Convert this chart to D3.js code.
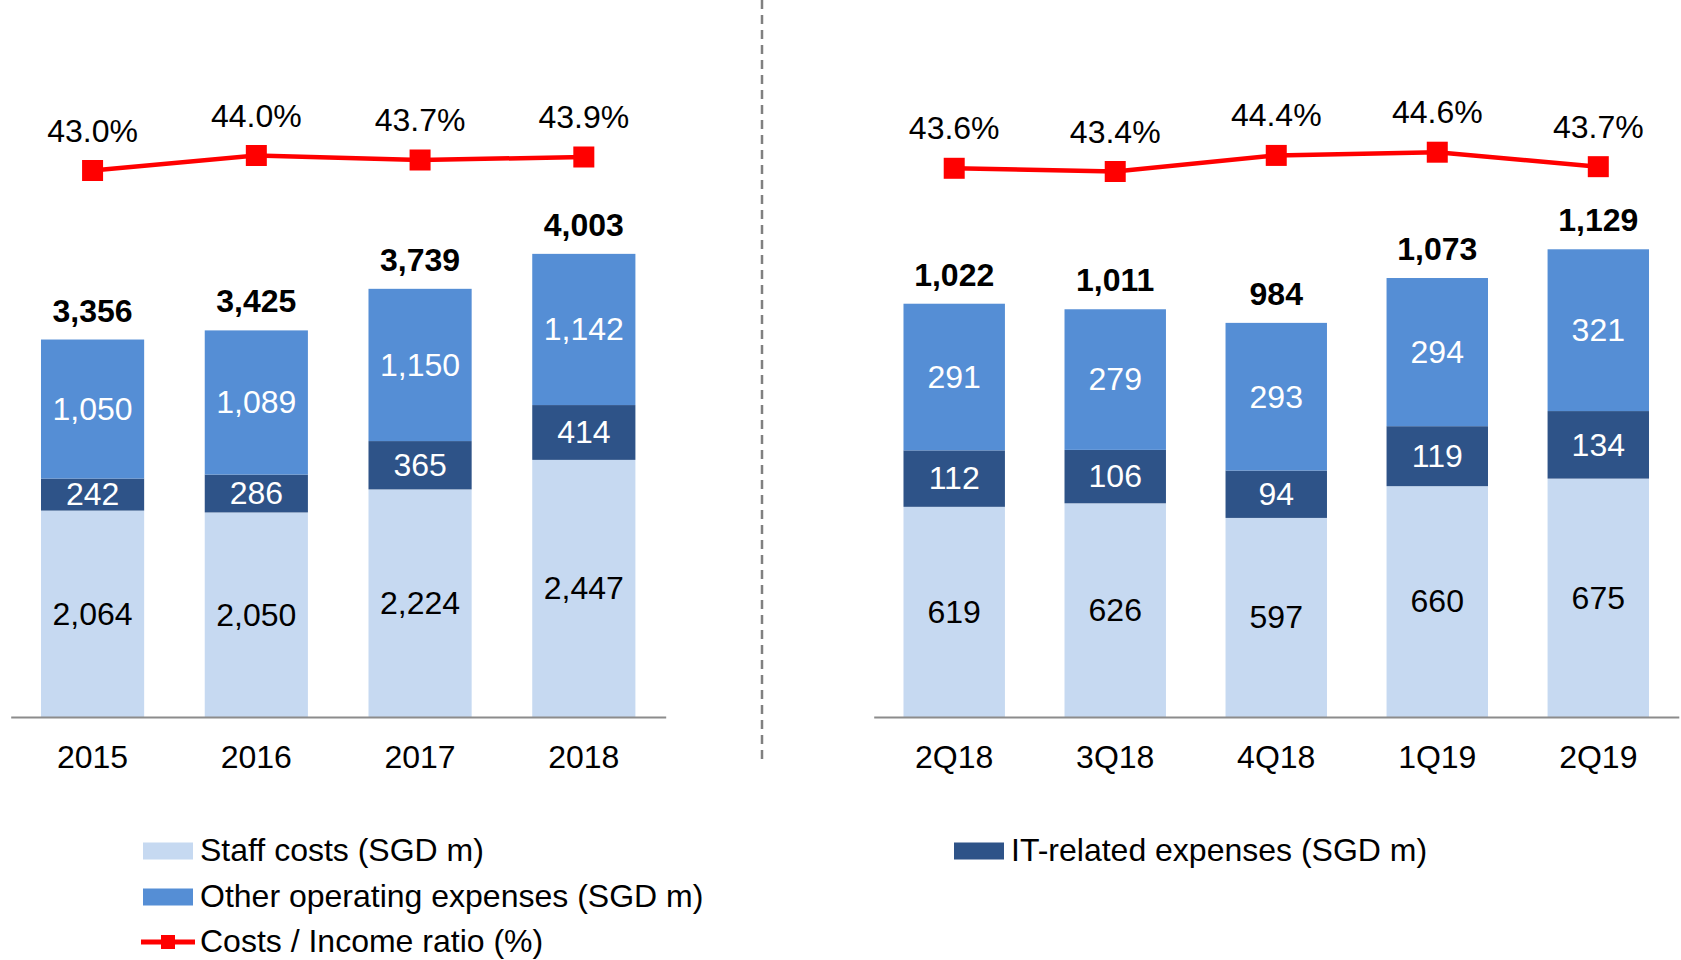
<!DOCTYPE html>
<html>
<head>
<meta charset="utf-8">
<script src="https://cdn.jsdelivr.net/npm/d3@7"></script>
<style>
  html, body { margin: 0; padding: 0; background: #fff; }
  svg { display: block; font-family: "Liberation Sans", Arial, sans-serif; }
</style>
</head>
<body>
<svg id="chart" width="1681" height="960"></svg>
<script>
// Annual figures
const yearCats   = ["2015", "2016", "2017", "2018"];
const yearStaff  = [2064, 2050, 2224, 2447];
const yearIT     = [242, 286, 365, 414];
const yearOther  = [1050, 1089, 1150, 1142];
const yearTotal  = [3356, 3425, 3739, 4003];
const yearRatio  = [43.0, 44.0, 43.7, 43.9];

// Quarterly figures
const quarterCats  = ["2Q18", "3Q18", "4Q18", "1Q19", "2Q19"];
const quarterStaff = [619, 626, 597, 660, 675];
const quarterIT    = [112, 106, 94, 119, 134];
const quarterOther = [291, 279, 293, 294, 321];
const quarterTotal = [1022, 1011, 984, 1073, 1129];
const quarterRatio = [43.6, 43.4, 44.4, 44.6, 43.7];

const seriesNames = ["Staff costs (SGD m)", "IT-related expenses (SGD m)",
                     "Other operating expenses (SGD m)", "Costs / Income ratio (%)"];

const COL_STAFF = "#c6d9f1";
const COL_IT    = "#2e5388";
const COL_OTHER = "#558ed5";
const COL_LINE  = "#ff0000";
const FONT = 32;

const svg = d3.select("#chart");
const fmt = d3.format(",");
const pct = d3.format(".1f");
const baseY = 717;

function panel(opts) {
  const { cats, staff, it, other, total, ratio, xRange, yDomain, yTop, rDomain, rRange } = opts;
  const x = d3.scaleBand().domain(cats).range(xRange).paddingInner(0.37).paddingOuter(0.185);
  const y = d3.scaleLinear().domain(yDomain).range([baseY, yTop]).clamp(true);
  const r = d3.scaleLinear().domain(rDomain).range(rRange);

  const rows = cats.map((c, i) => ({ c, staff: staff[i], it: it[i], other: other[i], total: total[i], ratio: ratio[i] }));
  const stack = d3.stack().keys(["staff", "it", "other"])(rows);
  const colors = { staff: COL_STAFF, it: COL_IT, other: COL_OTHER };
  const labelCol = { staff: "#000", it: "#fff", other: "#fff" };

  const g = svg.append("g");

  stack.forEach(layer => {
    const lg = g.append("g");
    lg.selectAll("rect").data(layer).join("rect")
      .attr("x", d => x(d.data.c))
      .attr("width", x.bandwidth())
      .attr("y", d => y(d[1]))
      .attr("height", d => y(d[0]) - y(d[1]))
      .attr("fill", colors[layer.key]);
    lg.selectAll("text").data(layer).join("text")
      .attr("x", d => x(d.data.c) + x.bandwidth() / 2)
      .attr("y", d => (y(d[0]) + y(d[1])) / 2)
      .attr("dy", "0.34em")
      .attr("text-anchor", "middle")
      .attr("font-size", FONT)
      .attr("fill", labelCol[layer.key])
      .text(d => fmt(d.data[layer.key]));
  });

  // totals above bars
  g.append("g").selectAll("text").data(rows).join("text")
    .attr("x", d => x(d.c) + x.bandwidth() / 2)
    .attr("y", d => y(d.staff + d.it + d.other) - 18)
    .attr("text-anchor", "middle")
    .attr("font-size", FONT)
    .attr("font-weight", "bold")
    .attr("fill", "#000")
    .text(d => fmt(d.total));

  // category axis
  const ax = g.append("g").attr("transform", `translate(0,${baseY})`)
    .call(d3.axisBottom(x).tickSize(0).tickSizeOuter(0).tickPadding(28));
  ax.select(".domain").attr("stroke", "#8c8c8c").attr("stroke-width", 2);
  ax.selectAll("text").attr("font-size", FONT).attr("fill", "#000")
    .attr("font-family", "Liberation Sans, Arial, sans-serif");

  // cost / income ratio line
  const line = d3.line().x(d => x(d.c) + x.bandwidth() / 2).y(d => r(d.ratio));
  g.append("path").datum(rows).attr("d", line)
    .attr("fill", "none").attr("stroke", COL_LINE).attr("stroke-width", 4.5);
  const ms = 21;
  g.append("g").selectAll("rect").data(rows).join("rect")
    .attr("x", d => x(d.c) + x.bandwidth() / 2 - ms / 2)
    .attr("y", d => r(d.ratio) - ms / 2)
    .attr("width", ms).attr("height", ms)
    .attr("fill", COL_LINE);
  g.append("g").selectAll("text").data(rows).join("text")
    .attr("x", d => x(d.c) + x.bandwidth() / 2)
    .attr("y", d => r(d.ratio) - 29)
    .attr("text-anchor", "middle")
    .attr("font-size", FONT)
    .attr("fill", "#000")
    .text(d => pct(d.ratio) + "%");
}

panel({
  cats: yearCats, staff: yearStaff, it: yearIT, other: yearOther, total: yearTotal, ratio: yearRatio,
  xRange: [10.7, 665.7], yDomain: [505, 4500], yTop: 717 - 0.1324 * 3995,
  rDomain: [43, 44], rRange: [170.5, 155.5]
});

panel({
  cats: quarterCats, staff: quarterStaff, it: quarterIT, other: quarterOther, total: quarterTotal, ratio: quarterRatio,
  xRange: [873.7, 1678.8], yDomain: [202, 1200], yTop: 717 - 0.504 * 998,
  rDomain: [43.4, 44.6], rRange: [171.5, 152.2]
});

// divider between annual and quarterly panels
svg.append("line")
  .attr("x1", 762).attr("x2", 762).attr("y1", 0).attr("y2", 763)
  .attr("stroke", "#808080").attr("stroke-width", 2.5).attr("stroke-dasharray", "9,6");

// legend
const legendItems = [
  { name: seriesNames[0], type: "box", color: COL_STAFF, x: 143, y: 851 },
  { name: seriesNames[2], type: "box", color: COL_OTHER, x: 143, y: 897 },
  { name: seriesNames[3], type: "line", color: COL_LINE, x: 143, y: 942 },
  { name: seriesNames[1], type: "box", color: COL_IT, x: 954, y: 851 }
];
const lg = svg.append("g").selectAll("g").data(legendItems).join("g")
  .attr("transform", d => `translate(${d.x},${d.y})`);
lg.filter(d => d.type === "box").append("rect")
  .attr("x", 0).attr("y", -8.5).attr("width", 50).attr("height", 17)
  .attr("fill", d => d.color);
lg.filter(d => d.type === "line").append("line")
  .attr("x1", -2).attr("x2", 52).attr("y1", 0).attr("y2", 0)
  .attr("stroke", d => d.color).attr("stroke-width", 5);
lg.filter(d => d.type === "line").append("rect")
  .attr("x", 18).attr("y", -7).attr("width", 14).attr("height", 14)
  .attr("fill", d => d.color);
lg.append("text")
  .attr("x", 57).attr("y", 0).attr("dy", "0.3em")
  .attr("font-size", FONT).attr("fill", "#000")
  .text(d => d.name);
</script>
</body>
</html>
